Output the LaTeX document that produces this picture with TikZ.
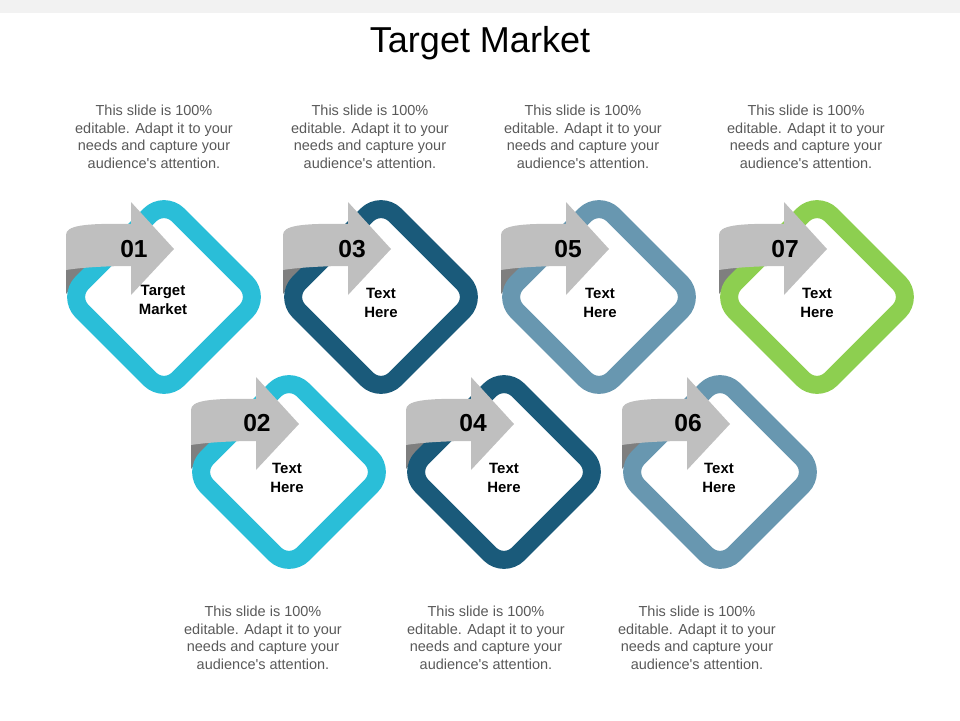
\documentclass[tikz,border=0pt]{standalone}
\usepackage{fontspec}
\setmainfont{Liberation Sans}
\usetikzlibrary{positioning}
\definecolor{tcyan}{HTML}{2ABED8}
\definecolor{tnavy}{HTML}{1A5A7A}
\definecolor{tsteel}{HTML}{6897B0}
\definecolor{tgreen}{HTML}{8DCF50}
\definecolor{arrowgray}{HTML}{BFBFBF}
\definecolor{foldgray}{HTML}{7F7F7F}
\definecolor{textgray}{HTML}{595959}
\definecolor{bandgray}{HTML}{F2F2F2}
\tikzstyle{ring} = [rectangle, rotate=45, minimum size=2.72cm, inner sep=0pt, line width=0.36cm, rounded corners=0.4cm]
\tikzstyle{num} = [font=\fontsize{14}{16}\selectfont\bfseries, inner sep=0pt]
\tikzstyle{boxtext} = [font=\fontsize{8.5}{10.8}\selectfont\bfseries, align=center, inner sep=0pt]
\tikzstyle{desc} = [font=\fontsize{8.25}{9.96}\selectfont, text=textgray, align=center, inner sep=0pt]
\tikzstyle{heading} = [font=\fontsize{20.5}{24}\selectfont, inner sep=0pt]
\tikzset{
  ribbonfold/.pic={\fill[foldgray] (-98,-31) -- (-68,-38) -- (-98,-3) -- cycle;},
  ribbonhead/.pic={\fill[arrowgray] (-98,-62) .. controls (-98,-71) and (-82,-74) .. (-33,-73) -- (-33,-95) -- (10,-48) -- (-33,-2) -- (-33,-31) .. controls (-62,-31) and (-86,-29) .. (-98,-27) -- cycle;}
}

\begin{document}
\begin{tikzpicture}[x=0.02cm, y=-0.02cm]
        \useasboundingbox (0,0) rectangle (960,720);
        \fill[bandgray] (0,0) rectangle (960,13);
        \node (title) [heading, anchor=base] at (480,52) {Target Market};

        % top row
        \pic at (164,297) {ribbonfold};
        \node (ring1) [ring, draw=tcyan] at (164,297) {};
        \pic at (164,297) {ribbonhead};
        \node (n01) [num] at (134,249) {01};
        \node (t01) [boxtext] at (163,300) {Target\\Market};

        \pic at (381,297) {ribbonfold};
        \node (ring3) [ring, draw=tnavy] at (381,297) {};
        \pic at (381,297) {ribbonhead};
        \node (n03) [num] at (352,249) {03};
        \node (t03) [boxtext] at (381,303) {Text\\Here};

        \pic at (599,297) {ribbonfold};
        \node (ring5) [ring, draw=tsteel] at (599,297) {};
        \pic at (599,297) {ribbonhead};
        \node (n05) [num] at (568,249) {05};
        \node (t05) [boxtext] at (600,303) {Text\\Here};

        \pic at (817,297) {ribbonfold};
        \node (ring7) [ring, draw=tgreen] at (817,297) {};
        \pic at (817,297) {ribbonhead};
        \node (n07) [num] at (785,249) {07};
        \node (t07) [boxtext] at (817,303) {Text\\Here};

        % bottom row
        \pic at (289,472) {ribbonfold};
        \node (ring2) [ring, draw=tcyan] at (289,472) {};
        \pic at (289,472) {ribbonhead};
        \node (n02) [num] at (257,423) {02};
        \node (t02) [boxtext] at (287,478) {Text\\Here};

        \pic at (504,472) {ribbonfold};
        \node (ring4) [ring, draw=tnavy] at (504,472) {};
        \pic at (504,472) {ribbonhead};
        \node (n04) [num] at (473,423) {04};
        \node (t04) [boxtext] at (504,478) {Text\\Here};

        \pic at (720,472) {ribbonfold};
        \node (ring6) [ring, draw=tsteel] at (720,472) {};
        \pic at (720,472) {ribbonhead};
        \node (n06) [num] at (688,423) {06};
        \node (t06) [boxtext] at (719,478) {Text\\Here};

        % descriptions
        \node (d1) [desc] at (154,137) {This slide is 100\%\\editable. Adapt it to your\\needs and capture your\\audience\textquotesingle s attention.};
        \node (d3) [desc] at (370,137) {This slide is 100\%\\editable. Adapt it to your\\needs and capture your\\audience\textquotesingle s attention.};
        \node (d5) [desc] at (583,137) {This slide is 100\%\\editable. Adapt it to your\\needs and capture your\\audience\textquotesingle s attention.};
        \node (d7) [desc] at (806,137) {This slide is 100\%\\editable. Adapt it to your\\needs and capture your\\audience\textquotesingle s attention.};
        \node (d2) [desc] at (263,638) {This slide is 100\%\\editable. Adapt it to your\\needs and capture your\\audience\textquotesingle s attention.};
        \node (d4) [desc] at (486,638) {This slide is 100\%\\editable. Adapt it to your\\needs and capture your\\audience\textquotesingle s attention.};
        \node (d6) [desc] at (697,638) {This slide is 100\%\\editable. Adapt it to your\\needs and capture your\\audience\textquotesingle s attention.};
    \end{tikzpicture}
\end{document}
